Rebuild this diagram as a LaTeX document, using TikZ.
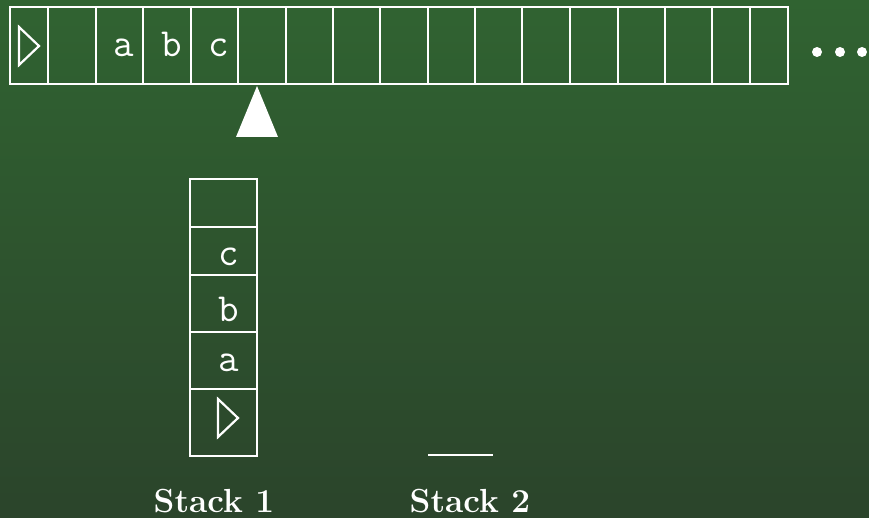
\documentclass[tikz,border=0pt]{standalone}
\usepackage{fontspec}
\definecolor{bgtop}{RGB}{48,99,49}
\definecolor{bgbot}{RGB}{43,68,43}
\tikzset{
  cellbox/.style={draw=white, line width=2.2bp, inner sep=0pt, outer sep=0pt, anchor=north west},
  sym/.style={text=white, inner sep=0pt, font=\ttfamily\fontsize{40}{40}\selectfont},
  lbl/.style={text=white, inner sep=0pt, anchor=base, font=\bfseries\fontsize{33.5}{33.5}\selectfont},
  wline/.style={draw=white, line width=2.2bp, line join=miter},
}
\begin{document}
\begin{tikzpicture}[x=1bp, y=-1bp]
\shade[top color=bgtop, bottom color=bgbot] (0,0) rectangle (869,518);
\useasboundingbox (0,0) rectangle (869,518);
% tape cells
\foreach \i/\a/\b in {1/10/48, 2/48/96, 3/96/143, 4/143/191, 5/191/238, 6/238/286, 7/286/333, 8/333/380, 9/380/428, 10/428/475, 11/475/522, 12/522/570, 13/570/618, 14/618/665, 15/665/712, 16/712/750, 17/750/788}{
  \pgfmathsetmacro{\w}{\b-\a}
  \node[cellbox, minimum width=\w bp, minimum height=77bp] (t\i) at (\a,7) {};
}
% start symbol on tape
\draw[wline] (19,27) -- (39,46) -- (19,65) -- cycle;
\node[sym, anchor=base] (ta) at (123.5,57) {a};
\node[sym, anchor=base] (tb) at (172,57) {b};
\node[sym, anchor=base] (tc) at (219,57) {c};
% dots
\foreach \x [count=\k] in {817,840,862}{
  \node[circle, fill=white, minimum size=10bp, inner sep=0pt] (dot\k) at (\x,52) {};
}
% head pointer
\fill[white] (236,137) -- (257,86) -- (278,137) -- cycle;
% stack 1
\node[cellbox, minimum width=67bp, minimum height=48bp] (s5) at (190,179) {};
\node[cellbox, minimum width=67bp, minimum height=48bp] (s4) at (190,227) {};
\node[cellbox, minimum width=67bp, minimum height=57bp] (s3) at (190,275) {};
\node[cellbox, minimum width=67bp, minimum height=57bp] (s2) at (190,332) {};
\node[cellbox, minimum width=67bp, minimum height=67bp] (s1) at (190,389) {};
\node[sym, anchor=base] (sc) at (228.5,266) {c};
\node[sym, anchor=base] (sb) at (228.5,322) {b};
\node[sym, anchor=base] (sa) at (228.5,371) {a};
\draw[wline] (218,399) -- (238,418) -- (218,437) -- cycle;
% stack 2 (empty)
\coordinate (e1) at (428,455);
\coordinate (e2) at (493,455);
\draw[wline] (e1) -- (e2);
% labels
\node[lbl] (l1) at (214,512) {Stack 1};
\node[lbl] (l2) at (470,512) {Stack 2};
\end{tikzpicture}
\end{document}
